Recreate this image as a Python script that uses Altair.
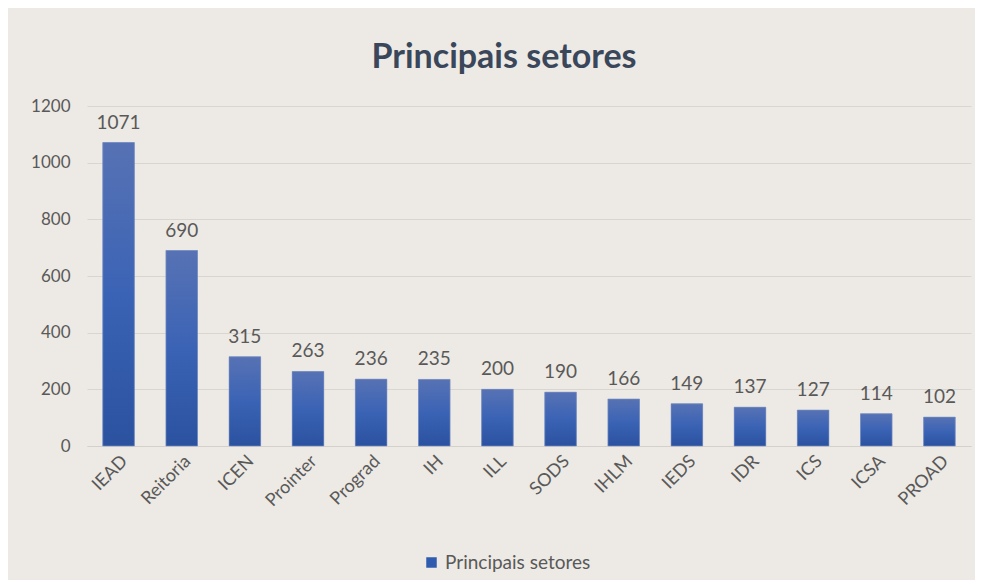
import altair as alt
import pandas as pd

setores = ["IEAD", "Reitoria", "ICEN", "Prointer", "Prograd", "IH", "ILL",
           "SODS", "IHLM", "IEDS", "IDR", "ICS", "ICSA", "PROAD"]
valores = [1071, 690, 315, 263, 236, 235, 200, 190, 166, 149, 137, 127, 114, 102]
serie = "Principais setores"
y_ticks = [0, 200, 400, 600, 800, 1000, 1200]

df = pd.DataFrame({"setor": setores, "valor": valores, "serie": [serie] * len(setores)})

FONT = "Lato"
GRAY = "#595959"

gradient = alt.Gradient(
    gradient="linear",
    stops=[
        alt.GradientStop(color="#5772b4", offset=0),
        alt.GradientStop(color="#3b63b5", offset=0.5),
        alt.GradientStop(color="#2a529f", offset=1),
    ],
    x1=0, x2=0, y1=0, y2=1,
)

x = alt.X("setor:N", sort=setores, title=None,
          scale=alt.Scale(paddingInner=0.5, paddingOuter=0.25),
          axis=alt.Axis(labelAngle=-45, labelFontSize=18, labelColor=GRAY, labelFont=FONT,
                        ticks=False, domainColor="#d4d0cc", labelPadding=6))
y = alt.Y("valor:Q", title=None,
          scale=alt.Scale(domain=[0, 1200]),
          axis=alt.Axis(values=y_ticks, format="d", labelFontSize=17, labelColor=GRAY,
                        labelFont=FONT, ticks=False, domain=False, gridColor="#d9d6d2",
                        labelPadding=17))

base = alt.Chart(df)

legend_bars = base.mark_bar().encode(
    x=x, y=y,
    color=alt.Color("serie:N", scale=alt.Scale(range=["#2f5cae"]),
                    legend=alt.Legend(title=None, orient="none", legendX=335, legendY=447,
                                      symbolType="square", symbolSize=110,
                                      labelFontSize=19, labelColor=GRAY, labelFont=FONT)),
)

bars = base.mark_bar(fill=gradient, stroke="#7f95c6", strokeWidth=0.6).encode(x=x, y=y)

labels = base.mark_text(baseline="bottom", dy=-10, fontSize=19, color=GRAY, font=FONT).encode(
    x=x, y=y, text="valor:Q")

chart = (legend_bars + bars + labels).properties(
    width=884, height=340,
    title=alt.TitleParams(serie, fontSize=34, font=FONT, fontWeight="bold",
                          color="#3a475a", offset=22, dx=-25),
    autosize=alt.AutoSizeParams(type="none"),
    padding={"left": 79, "top": 98, "right": 4, "bottom": 134},
).configure(background="#ede9e4").configure_view(stroke=None)

chart.save("out.html", embed_options={"renderer": "svg", "actions": False})
